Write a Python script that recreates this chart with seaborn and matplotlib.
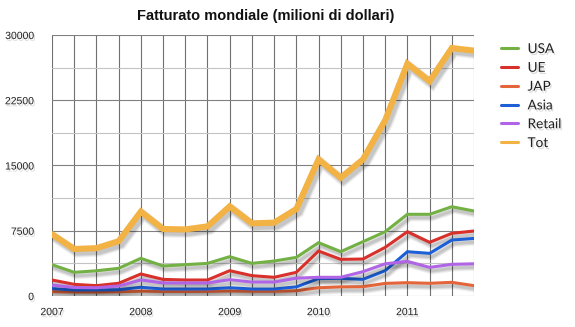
import matplotlib
matplotlib.use("Agg")
import matplotlib.pyplot as plt
import matplotlib.patheffects as pe
from matplotlib.ticker import MultipleLocator, FixedLocator
import numpy as np
import pandas as pd
import seaborn as sns

# Quarterly periods 2007Q1 .. 2011Q4
periodi = pd.period_range("2007Q1", periods=20, freq="Q")

# Revenue by region (millions of dollars)
usa = [3600, 2720, 2900, 3180, 4330, 3450, 3600, 3750, 4520, 3750,
       4020, 4440, 6130, 5100, 6240, 7390, 9390, 9390, 10260, 9770]
ue = [1840, 1340, 1190, 1460, 2530, 1910, 1840, 1840, 2910, 2340,
      2150, 2720, 5170, 4210, 4250, 5590, 7390, 6170, 7200, 7470]
jap = [500, 450, 450, 480, 560, 520, 520, 530, 580, 540,
       540, 600, 950, 1050, 1070, 1450, 1530, 1460, 1570, 1190]
asia = [850, 690, 700, 720, 1000, 800, 800, 800, 950, 800,
        800, 1050, 2000, 2030, 1910, 2910, 5090, 4900, 6430, 6620]
retail = [1260, 980, 950, 1150, 1840, 1500, 1500, 1500, 1880, 1600,
          1600, 2050, 2150, 2150, 2800, 3700, 3980, 3290, 3640, 3700]
tot = [7100, 5400, 5500, 6300, 9700, 7700, 7650, 8000, 10300, 8350,
       8430, 10000, 15700, 13600, 15700, 20200, 26700, 24700, 28500, 28200]

serie = ["USA", "UE", "JAP", "Asia", "Retail", "Tot"]
valori = [usa, ue, jap, asia, retail, tot]
colori = ["#74b144", "#d8302b", "#e5653b", "#1c5fd6", "#b064e6", "#f2b244"]

anni_tick = [2007, 2008, 2009, 2010, 2011]
y_tick = [0, 7500, 15000, 22500, 30000]

x = np.array([p.year + (p.quarter - 1) / 4 for p in periodi])
df = pd.concat(
    [pd.DataFrame({"periodo": x, "valore": v, "serie": s}) for s, v in zip(serie, valori)],
    ignore_index=True,
)

sns.set_theme(style="white")
plt.rcParams["font.family"] = ["Liberation Sans", "DejaVu Sans"]

fig = plt.figure(figsize=(5.75, 3.27), dpi=100)
ax = fig.add_axes([52 / 575, 1 - 296 / 327, (474 - 52) / 575, (296 - 35) / 327])


def soft_shadow(lw):
    # layered translucent strokes give a blurred drop shadow
    return [
        pe.SimpleLineShadow(offset=(2.0, -2.5), alpha=0.06, shadow_color="black", linewidth=lw + 3),
        pe.SimpleLineShadow(offset=(2.0, -2.5), alpha=0.08, shadow_color="black", linewidth=lw + 1.5),
        pe.SimpleLineShadow(offset=(2.0, -2.5), alpha=0.10, shadow_color="black", linewidth=lw),
        pe.Normal(),
    ]


for s, c in zip(serie, colori):
    lw = 4.4 if s == "Tot" else 2.2
    sns.lineplot(data=df[df["serie"] == s], x="periodo", y="valore", color=c,
                 linewidth=lw, ax=ax, label=s, legend=False, zorder=5 if s == "Tot" else 4)
    ax.lines[-1].set_path_effects(soft_shadow(lw))
    ax.lines[-1].set_solid_joinstyle("miter")

ax.set_xlim(2007, 2011.75)
ax.set_ylim(0, 30000)
ax.xaxis.set_major_locator(FixedLocator(anni_tick))
ax.xaxis.set_minor_locator(MultipleLocator(0.25))
ax.yaxis.set_major_locator(FixedLocator(y_tick))
ax.yaxis.set_minor_locator(MultipleLocator(3750))
ax.set_xticklabels([str(a) for a in anni_tick])
ax.set_yticklabels([str(v) for v in y_tick])

ax.grid(which="major", axis="x", color="#707070", linewidth=0.8)
ax.grid(which="minor", axis="x", color="#707070", linewidth=0.8)
ax.grid(which="major", axis="y", color="#808080", linewidth=0.8)
ax.grid(which="minor", axis="y", color="#c4c4c4", linewidth=0.8)
ax.set_axisbelow(True)
for sp in ax.spines.values():
    sp.set_visible(False)

txt_shadow = [pe.SimplePatchShadow(offset=(1.0, -1.5), alpha=0.15, shadow_rgbFace="black"), pe.Normal()]
ax.tick_params(axis="both", which="both", length=0, labelsize=7.5, colors="#222222")
ax.tick_params(axis="y", pad=13)
ax.tick_params(axis="x", pad=8)
for lab in ax.get_xticklabels() + ax.get_yticklabels():
    lab.set_path_effects(txt_shadow)
ax.set_xlabel("")
ax.set_ylabel("")

fig.text(266 / 575, 1 - 16 / 327, "Fatturato mondiale (milioni di dollari)",
         ha="center", va="center", fontsize=10.5, fontweight="bold", color="#111111")

handles, labels = ax.get_legend_handles_labels()
leg = fig.legend(handles, labels, loc="upper left", bbox_to_anchor=(501 / 575, 1 - 43 / 327),
                 frameon=False, handlelength=1.25, handletextpad=0.7,
                 labelspacing=0.5, borderpad=0, borderaxespad=0,
                 prop={"family": ["Lato", "DejaVu Sans"], "size": 9.8})
for t in leg.get_texts():
    t.set_path_effects(txt_shadow)
    t.set_color("#222222")
for h in leg.get_lines():
    h.set_linewidth(2.2)
    h.set_path_effects([])

fig.savefig("out.png", dpi=100, facecolor="white")
